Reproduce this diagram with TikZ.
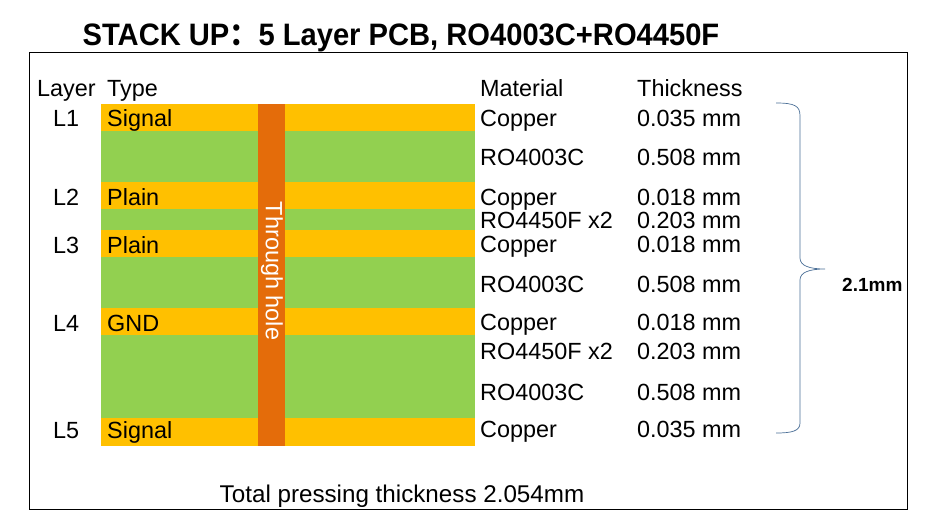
\documentclass[tikz,border=0pt]{standalone}
\usepackage{fontspec}
\setmainfont{Liberation Sans}
\newfontfamily\cjkfont{Noto Sans CJK SC}

\definecolor{copper}{HTML}{FFC000}
\definecolor{prepreg}{HTML}{92D050}
\definecolor{via}{HTML}{E46C0A}
\definecolor{bracecol}{HTML}{4A6E96}

\begin{document}
\begin{tikzpicture}[x=1pt,y=-1pt,
    lbl/.style={anchor=base west,inner sep=0pt,font=\fontsize{23.4}{23.4}\selectfont}]

    % --- Canvas and frame ---
    \useasboundingbox (0,0) rectangle (936,532);
    \draw[line width=0.8pt] (29,52) rectangle (907,509);

    % --- Title ---
    \node[anchor=base,inner sep=0pt,xscale=0.94,font=\bfseries\fontsize{31}{31}\selectfont]
        (title) at (401,46) {STACK UP{\cjkfont ：}5 Layer PCB, RO4003C+RO4450F};

    % --- Stack: copper and dielectric bands ---
    \foreach \ya/\yb/\col in {104/131/copper, 131/182/prepreg, 182/209/copper,
        209/230/prepreg, 230/257/copper, 257/308/prepreg, 308/335/copper,
        335/418/prepreg, 418/446/copper}
        \fill[\col] (101,\ya) rectangle (475,\yb);

    % Through hole crossing all layers
    \fill[via] (258,104) rectangle (285,446);
    \node[rotate=-90,text=white,inner sep=0pt,font=\fontsize{23.5}{23.5}\selectfont]
        (hole) at (272,271) {Through hole};

    % --- Column heads ---
    \node[lbl] (layerhead) at (37,97) {Layer};
    \node[lbl] (typehead) at (107,97) {Type};
    \node[lbl] (mathead) at (480,97) {Material};
    \node[lbl] (thickhead) at (637,97) {Thickness};

    % --- Layer names and types ---
    \foreach \yb/\lay/\typ [count=\i] in {126/L1/Signal, 205/L2/Plain,
        253/L3/Plain, 331/L4/GND, 438/L5/Signal} {
        \node[lbl] (lay\i) at (53,\yb) {\lay};
        \node[lbl] (typ\i) at (107,\yb) {\typ};
    }

    % --- Materials and thicknesses ---
    \foreach \yb/\mat/\thk [count=\i] in {127/Copper/0.035 mm,
        165/RO4003C/0.508 mm, 205/Copper/0.018 mm, 228/RO4450F x2/0.203 mm,
        252/Copper/0.018 mm, 292/RO4003C/0.508 mm, 330/Copper/0.018 mm,
        359/RO4450F x2/0.203 mm, 400/RO4003C/0.508 mm, 437/Copper/0.035 mm} {
        \node[lbl] (mat\i) at (480,\yb) {\mat};
        \node[lbl] (thk\i) at (637,\yb) {\thk};
    }

    % --- Brace with overall thickness ---
    \coordinate (bracetop) at (776,103);
    \coordinate (bracetip) at (825,269);
    \coordinate (bracebot) at (776,433);
    \draw[bracecol,line width=0.7pt] (bracetop)
        .. controls (795,103) and (800,106) .. (800,116) -- (800,258)
        .. controls (800,266) and (810,269) .. (bracetip)
        .. controls (810,269) and (800,272) .. (800,280) -- (800,423)
        .. controls (800,431) and (792,433) .. (bracebot);
    \node[anchor=base west,inner sep=0pt,font=\bfseries\fontsize{19}{19}\selectfont]
        (total) at (842,291) {2.1mm};

    % --- Footer ---
    \node[anchor=base,inner sep=0pt,font=\fontsize{24.2}{24.2}\selectfont]
        (pressing) at (402,502) {Total pressing thickness 2.054mm};

\end{tikzpicture}
\end{document}
